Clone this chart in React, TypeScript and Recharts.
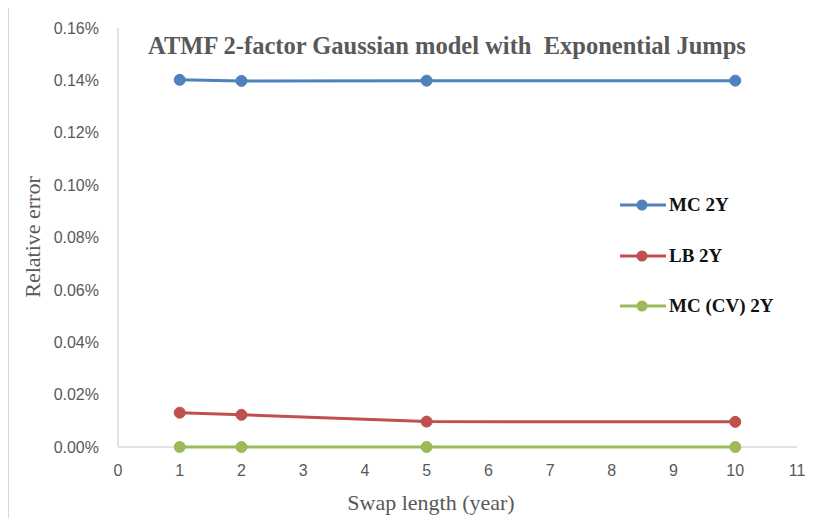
import React from 'react';
import { LineChart, Line, XAxis, YAxis, Legend, CartesianGrid } from 'recharts';

// swap lengths (years) and relative errors (in %)
const swapLengths = [1, 2, 5, 10];
const mc2y = [0.1402, 0.1398, 0.1399, 0.1399];
const lb2y = [0.0131, 0.0123, 0.0097, 0.0096];
const mcCv2y = [0, 0, 0, 0];

const xTicks = [0, 1, 2, 3, 4, 5, 6, 7, 8, 9, 10, 11];
const yTicks = [0, 0.02, 0.04, 0.06, 0.08, 0.1, 0.12, 0.14, 0.16];

const SERIES = [
  { key: 'mc', name: 'MC 2Y', color: '#4f81bd' },
  { key: 'lb', name: 'LB 2Y', color: '#c0504d' },
  { key: 'cv', name: 'MC (CV) 2Y', color: '#9bbb59' },
];

const data = swapLengths.map((x, i) => ({ x, mc: mc2y[i], lb: lb2y[i], cv: mcCv2y[i] }));

const SERIF = '"Liberation Serif", "Times New Roman", serif';
const SANS = '"Liberation Sans", Arial, sans-serif';
const GREY = '#595959';

function LegendBox() {
  return (
    <div style={{ fontFamily: SERIF }}>
      {SERIES.map(s => (
        <div key={s.key} style={{ height: 50.5, display: 'flex', alignItems: 'center' }}>
          <svg width={46} height={14} style={{ marginRight: 3 }}>
            <line x1={0} y1={7} x2={46} y2={7} stroke={s.color} strokeWidth={3} />
            <circle cx={22} cy={7} r={5.5} fill={s.color} />
          </svg>
          <span style={{ fontWeight: 'bold', fontSize: 19, color: '#111', whiteSpace: 'nowrap' }}>{s.name}</span>
        </div>
      ))}
    </div>
  );
}

export default function App() {
  return (
    <div style={{ position: 'relative', width: 827, height: 526, margin: -8, overflow: 'hidden', background: '#fff' }}>
      <div style={{ position: 'absolute', left: 7, top: 4, width: 900, height: 600, border: '2px solid #d9d9d9' }} />
      <div style={{ position: 'absolute', left: 0, top: 0 }}>
        <LineChart width={827} height={526} data={data} margin={{ top: 28, right: 30, bottom: 49, left: 0 }}>
          {/* x axis baseline drawn as a grid line so the series sit on top of it */}
          <CartesianGrid
            vertical={false}
            stroke="#d9d9d9"
            strokeWidth={1.5}
            horizontalCoordinatesGenerator={({ offset }: any) => [offset.top + offset.height]}
          />
          <XAxis
            dataKey="x"
            type="number"
            domain={[0, 11]}
            ticks={xTicks}
            interval={0}
            height={30}
            tickLine={false}
            tickSize={0}
            tickMargin={18}
            axisLine={false}
            tick={{ fill: GREY, fontSize: 16, fontFamily: SANS }}
          />
          <YAxis
            type="number"
            domain={[0, 0.16]}
            ticks={yTicks}
            interval={0}
            width={118}
            tickLine={false}
            tickSize={0}
            tickMargin={19}
            axisLine={{ stroke: '#d9d9d9', strokeWidth: 1.5 }}
            tickFormatter={(v: number) => `${v.toFixed(2)}%`}
            tick={{ fill: GREY, fontSize: 16, fontFamily: SANS }}
          />
          {SERIES.map(s => (
            <Line
              key={s.key}
              type="linear"
              dataKey={s.key}
              name={s.name}
              stroke={s.color}
              strokeWidth={3}
              dot={{ r: 5.5, fill: s.color, stroke: s.color, strokeWidth: 1 }}
              isAnimationActive={false}
            />
          ))}
          <Legend
            layout="horizontal"
            verticalAlign="middle"
            align="center"
            content={() => <LegendBox />}
            wrapperStyle={{ position: 'absolute', left: 620, top: 180, width: 200 }}
          />
        </LineChart>
      </div>
      <div
        style={{
          position: 'absolute', left: 447, top: 33, transform: 'translateX(-50%)',
          fontFamily: SERIF, fontWeight: 'bold', fontSize: 24.5, lineHeight: '26px',
          color: GREY, whiteSpace: 'pre',
        }}
      >
        {'ATMF 2-factor Gaussian model with  Exponential Jumps'}
      </div>
      <div
        style={{
          position: 'absolute', left: 33, top: 237, transform: 'translate(-50%, -50%) rotate(-90deg)',
          fontFamily: SERIF, fontSize: 22, color: GREY, whiteSpace: 'nowrap',
        }}
      >
        Relative error
      </div>
      <div
        style={{
          position: 'absolute', left: 431, top: 503, transform: 'translate(-50%, -50%)',
          fontFamily: SERIF, fontSize: 22, color: GREY, whiteSpace: 'nowrap',
        }}
      >
        Swap length (year)
      </div>
    </div>
  );
}
